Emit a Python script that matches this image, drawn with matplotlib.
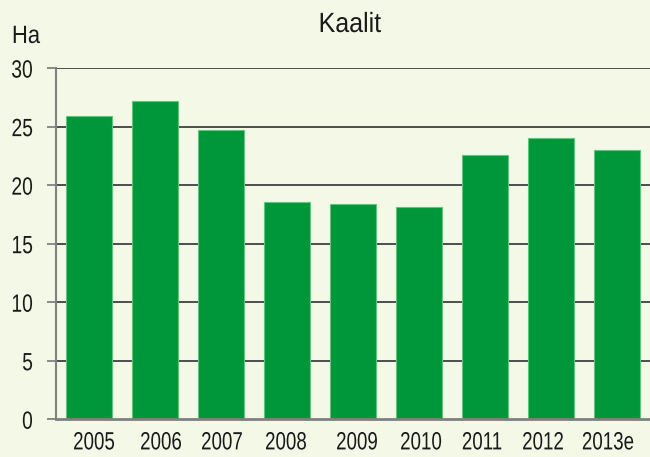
import matplotlib
matplotlib.use("Agg")
import matplotlib.pyplot as plt
from matplotlib.patheffects import AbstractPathEffect
from matplotlib.transforms import Affine2D, ScaledTranslation

years = ["2005", "2006", "2007", "2008", "2009", "2010", "2011", "2012", "2013e"]
hectares = [25.9, 27.2, 24.7, 18.6, 18.4, 18.1, 22.6, 24.0, 23.0]
y_ticks = [0, 5, 10, 15, 20, 25, 30]

# the source's year labels sit a little off their bars (pixels)
label_nudge = [5, 6, 1, -1, 4, 2, -3, -8, -9]

BG = "#f4f8e7"
BAR = "#00963a"
BAR_EDGE = "#5cc97a"
GRID = "#404040"
AXIS = "#808080"
TEXT = "#1a1a1a"
FONT = ["Liberation Sans", "DejaVu Sans"]


class Condense(AbstractPathEffect):
    """Squeeze text horizontally (the source uses a narrow Arial)."""

    def __init__(self, sx, anchor=0.5):
        super().__init__()
        self.sx = sx
        self.anchor = anchor  # 0 left, 0.5 centre, 1 right

    def draw_path(self, renderer, gc, tpath, affine, rgbFace=None):
        ext = tpath.get_extents()
        x0 = ext.x0 + self.anchor * ext.width
        t = Affine2D().translate(-x0, 0).scale(self.sx, 1).translate(x0, 0) + affine
        renderer.draw_path(gc, tpath, t, rgbFace)


fig = plt.figure(figsize=(6.5, 4.57), dpi=100)
fig.patch.set_facecolor(BG)
ax = fig.add_axes([0.0862, 0.0825, 0.9138, 0.7685])
ax.set_facecolor(BG)

x = range(len(years))
ax.bar(x, hectares, width=0.71, color=BAR, edgecolor=BAR_EDGE,
       linewidth=0.8, zorder=3)

ax.set_xlim(-0.5, len(years) - 0.5)
ax.set_ylim(0, 30)
ax.set_yticks(y_ticks)
ax.set_xticks(list(x))
ax.set_xticklabels(years)

# gridlines, skip the baseline (drawn by the bottom spine)
for v in y_ticks[1:]:
    ax.axhline(v, color=GRID, linewidth=1.3, zorder=1)

for side in ["top", "right"]:
    ax.spines[side].set_visible(False)
ax.spines["left"].set_color(AXIS)
ax.spines["left"].set_linewidth(1.5)
ax.spines["bottom"].set_color(AXIS)
ax.spines["bottom"].set_linewidth(2)
ax.spines["bottom"].set_zorder(4)

ax.tick_params(axis="y", length=6.5, width=1.3, color=AXIS, pad=10,
               labelcolor=TEXT)
ax.tick_params(axis="x", length=0, pad=8, labelcolor=TEXT)
for lab in ax.get_yticklabels():
    lab.set_family(FONT)
    lab.set_fontsize(18)
    lab.set_path_effects([Condense(0.77, anchor=1.0)])
for lab, dx in zip(ax.get_xticklabels(), label_nudge):
    lab.set_family(FONT)
    lab.set_fontsize(18)
    lab.set_path_effects([Condense(0.75, anchor=0.5)])
    lab.set_transform(lab.get_transform()
                      + ScaledTranslation(dx / 100, 0, fig.dpi_scale_trans))

fig.text(0.538, 0.93, "Kaalit", ha="center", va="baseline",
         fontsize=20, family=FONT, color=TEXT,
         path_effects=[Condense(0.9, anchor=0.5)])
fig.text(0.018, 0.906, "Ha", ha="left", va="baseline",
         fontsize=18, family=FONT, color=TEXT,
         path_effects=[Condense(0.88, anchor=0.0)])

fig.savefig("out.png", dpi=100, facecolor=BG)
